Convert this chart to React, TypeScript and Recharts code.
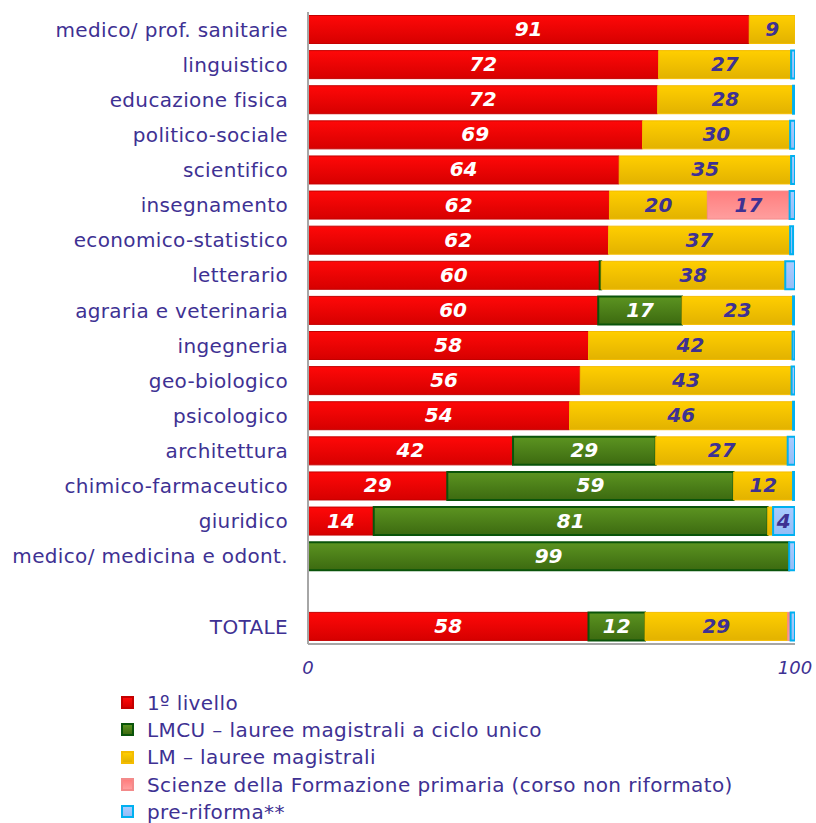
import React from 'react';
import { BarChart, Bar, XAxis, YAxis, LabelList } from 'recharts';

const categories = [
  'medico/ prof. sanitarie',
  'linguistico',
  'educazione fisica',
  'politico-sociale',
  'scientifico',
  'insegnamento',
  'economico-statistico',
  'letterario',
  'agraria e veterinaria',
  'ingegneria',
  'geo-biologico',
  'psicologico',
  'architettura',
  'chimico-farmaceutico',
  'giuridico',
  'medico/ medicina e odont.',
  '',
  'TOTALE',
];

const primoLivello = [90.6, 72, 71.8, 68.7, 63.9, 61.9, 61.7, 59.9, 59.6, 57.6, 55.9, 53.7, 42.1, 28.6, 13.5, 0, null, 57.6];
const lmcu = [0, 0, 0, 0, 0, 0, 0, 0.3, 17.2, 0, 0, 0, 29.3, 58.8, 80.9, 98.8, null, 11.6];
const lm = [9.4, 27.2, 27.8, 30.3, 35.3, 20.1, 37.3, 37.8, 22.8, 41.9, 43.4, 45.9, 27.1, 12.2, 1.1, 0, null, 29.3];
const formazionePrimaria = [0, 0, 0, 0, 0, 16.9, 0, 0, 0, 0, 0, 0, 0, 0, 0, 0, null, 0.6];
const preRiforma = [0, 0.8, 0.4, 1, 0.8, 1.1, 0.6, 2, 0.4, 0.5, 0.7, 0.4, 1.5, 0.4, 4.4, 1.2, null, 0.9];

const seriesNames = [
  '1º livello',
  'LMCU – lauree magistrali a ciclo unico',
  'LM – lauree magistrali',
  'Scienze della Formazione primaria (corso non riformato)',
  'pre-riforma**',
];
const xTicks = [0, 100];

const data = categories.map((name, i) => ({
  name,
  primo: primoLivello[i],
  lmcu: lmcu[i],
  lm: lm[i],
  sfp: formazionePrimaria[i],
  pre: preRiforma[i],
}));

const TEXT = '#3E3193';
const FONT = '"DejaVu Sans", Verdana, sans-serif';

const series = [
  { key: 'primo', id: 'gRed', top: '#FF0808', bottom: '#D60000', stroke: '#C40000', sw: 1, label: '#FFFFFF' },
  { key: 'lmcu', id: 'gGreen', top: '#5C9421', bottom: '#3C6A10', stroke: '#0A540A', sw: 2, label: '#FFFFFF' },
  { key: 'lm', id: 'gYellow', top: '#FFCE00', bottom: '#E2B200', stroke: '#F4BC00', sw: 1, label: TEXT },
  { key: 'sfp', id: 'gPink', top: '#FF7E7E', bottom: '#FF9E9E', stroke: '#F38A8A', sw: 1, label: TEXT },
  { key: 'pre', id: 'gBlue', top: '#A9CBFF', bottom: '#94BDF6', stroke: '#00B0F0', sw: 2, label: TEXT },
];

const makeLabel = (color: string) => (props: any) => {
  const { x, y, width, height, value } = props;
  if (value == null || value < 3) return null;
  return (
    <text
      x={x + width / 2}
      y={y + height / 2 + 1}
      textAnchor="middle"
      dominantBaseline="middle"
      fill={color}
      style={{ fontFamily: FONT, fontSize: 20, fontWeight: 'bold', fontStyle: 'italic' }}
    >
      {Math.round(value)}
    </text>
  );
};

export default function App() {
  return (
    <div style={{ position: 'absolute', left: 0, top: 0, width: 816, height: 823, background: '#fff', fontFamily: FONT }}>
      <BarChart
        width={816}
        height={823}
        data={data}
        layout="vertical"
        margin={{ top: 12, right: 21, left: 0, bottom: 139 }}
        barCategoryGap="10%"
      >
        <defs>
          {series.map((s) => (
            <linearGradient key={s.id} id={s.id} x1="0" y1="0" x2="0" y2="1">
              <stop offset="0%" stopColor={s.top} />
              <stop offset="100%" stopColor={s.bottom} />
            </linearGradient>
          ))}
        </defs>
        <XAxis
          type="number"
          domain={[0, 100]}
          ticks={xTicks}
          allowDataOverflow
          height={40}
          tickLine={false}
          tickSize={0}
          tickMargin={17}
          axisLine={{ stroke: '#A6A6A6', strokeWidth: 2 }}
          tick={{ fill: TEXT, fontSize: 18, fontStyle: 'italic', fontFamily: FONT }}
        />
        <YAxis
          type="category"
          dataKey="name"
          width={308}
          interval={0}
          tickLine={false}
          tickSize={0}
          tickMargin={20}
          axisLine={{ stroke: '#A6A6A6', strokeWidth: 2 }}
          tick={{ fill: TEXT, fontSize: 20, fontFamily: FONT, letterSpacing: 0.35 }}
        />
        {series.map((s) => (
          <Bar
            key={s.key}
            dataKey={s.key}
            stackId="a"
            fill={`url(#${s.id})`}
            stroke={s.stroke}
            strokeWidth={s.sw}
            isAnimationActive={false}
          >
            <LabelList dataKey={s.key} content={makeLabel(s.label)} />
          </Bar>
        ))}
      </BarChart>
      <div style={{ position: 'absolute', left: 121, top: 689 }}>
        {seriesNames.map((n, i) => (
          <div key={n} style={{ display: 'flex', alignItems: 'center', height: 27.3 }}>
            <div
              style={{
                width: 9,
                height: 9,
                border: `2px solid ${series[i].stroke}`,
                background: `linear-gradient(${series[i].top}, ${series[i].bottom})`,
                marginRight: 13,
              }}
            />
            <span style={{ color: TEXT, fontSize: 20, fontFamily: FONT, letterSpacing: 0.4, whiteSpace: 'nowrap' }}>{n}</span>
          </div>
        ))}
      </div>
    </div>
  );
}
